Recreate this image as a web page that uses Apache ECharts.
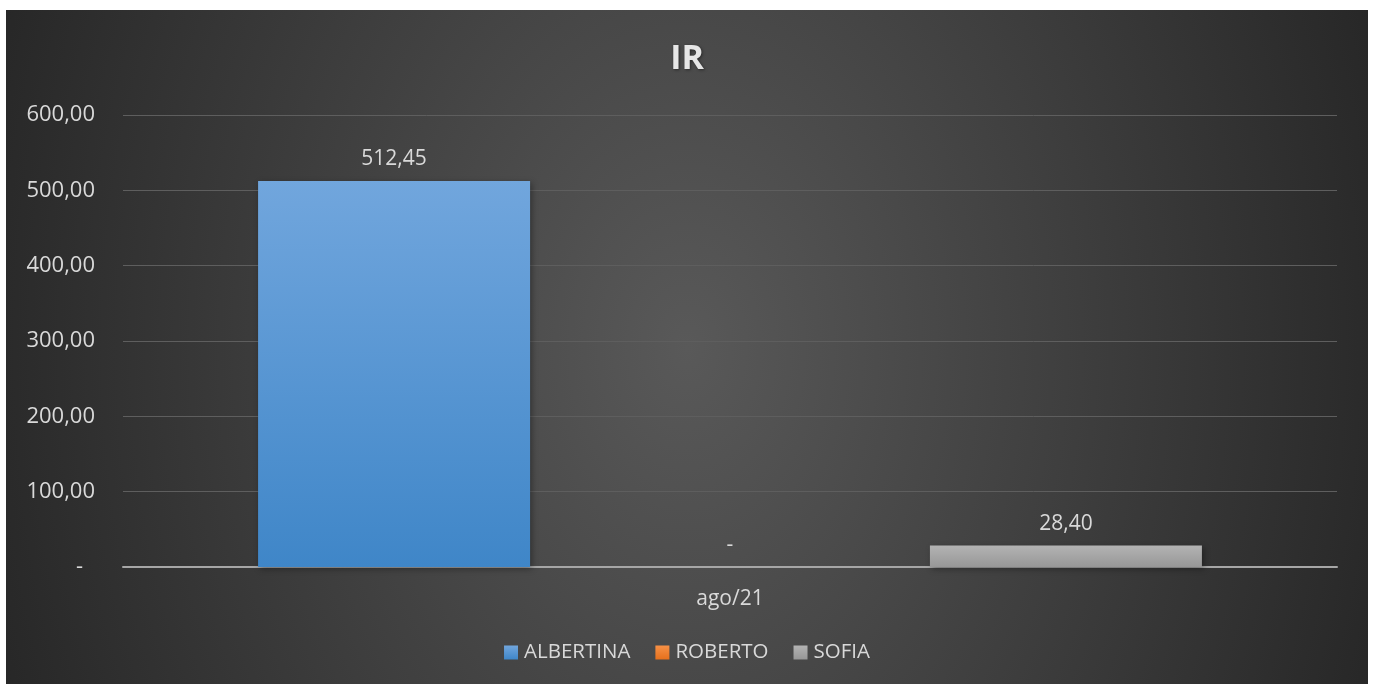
<!DOCTYPE html>
<html>
<head>
<meta charset="utf-8">
<script src="https://cdn.jsdelivr.net/npm/echarts@6/dist/echarts.min.js"></script>
<style>
html,body{margin:0;padding:0;background:#ffffff;width:1375px;height:684px;overflow:hidden;}
#chart{position:absolute;left:6px;top:10px;width:1362px;height:674px;
  background: radial-gradient(730px 1000px at 50% 50%, #595959 0%, #272727 100%);}
</style>
</head>
<body>
<div id="chart"></div>
<script>
const titleText = 'IR';
const categories = ['ago/21'];
const seriesNames = ['ALBERTINA', 'ROBERTO', 'SOFIA'];
const albertina = [512.45];
const roberto = [0];
const sofia = [28.40];
const yMin = 0, yMax = 600, yStep = 100;

function fmt(v) {
  if (Math.abs(v) < 1e-9) return '-';
  return v.toFixed(2).replace('.', ',');
}
const textColor = '#d9d9d9';
const font = '"Open Sans", "Liberation Sans", sans-serif';

function grad(top, bottom) {
  return new echarts.graphic.LinearGradient(0, 0, 0, 1, [
    {offset: 0, color: top}, {offset: 1, color: bottom}
  ]);
}
const colors = [grad('#71a6dd', '#3f86c8'), grad('#f79146', '#e6701c'), grad('#b3b3b3', '#979797')];
const values = [albertina, roberto, sofia];

const chart = echarts.init(document.getElementById('chart'));
chart.setOption({
  backgroundColor: 'transparent',
  animation: false,
  title: {
    text: titleText, left: 'center', top: 27,
    textStyle: {color: '#e6e6e6', fontSize: 34, fontWeight: 'bold', fontFamily: font,
      textShadowColor: 'rgba(0,0,0,0.45)', textShadowBlur: 3, textShadowOffsetX: 1, textShadowOffsetY: 1}
  },
  legend: {
    data: seriesNames, top: 627, left: 'center',
    itemWidth: 14, itemHeight: 14, itemGap: 25, icon: 'rect',
    textStyle: {color: textColor, fontSize: 20.5, fontFamily: font, lineHeight: 20, padding: [0, 0, 0, 1]}
  },
  grid: {left: 117, right: 31, top: 105, bottom: 117, containLabel: false},
  xAxis: {
    type: 'category', data: categories,
    axisLine: {show: true, lineStyle: {color: '#a6a6a6', width: 2}},
    axisTick: {show: false},
    axisLabel: {color: textColor, fontSize: 21, fontFamily: font, margin: 22}
  },
  yAxis: {
    type: 'value', min: yMin, max: yMax, interval: yStep,
    axisLine: {show: false}, axisTick: {show: false},
    splitLine: {lineStyle: {color: '#5e5e5e', width: 1}},
    axisLabel: {color: textColor, fontSize: 22, fontFamily: font, margin: 28,
      formatter: v => v === 0 ? '{d|-}' : fmt(v),
      rich: {d: {color: textColor, fontSize: 22, fontFamily: font, padding: [0, 12, 0, 0]}}}
  },
  series: seriesNames.map((n, i) => ({
    name: n, type: 'bar', data: values[i],
    barWidth: 272, barGap: '23.5%',
    itemStyle: {color: colors[i], shadowColor: 'rgba(0,0,0,0.35)', shadowBlur: 6, shadowOffsetX: 2, shadowOffsetY: 2},
    label: {show: true, position: 'top', distance: 11, color: textColor, fontSize: 21, fontFamily: font,
      formatter: p => fmt(p.value)}
  }))
});
</script>
</body>
</html>
